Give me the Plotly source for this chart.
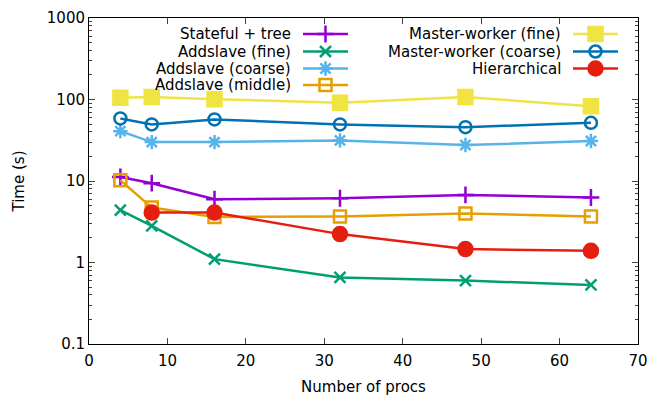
import plotly.graph_objects as go

procs = [4, 8, 16, 32, 48, 64]
procs_hier = [8, 16, 32, 48, 64]

stateful_tree = [11.2, 9.4, 5.97, 6.14, 6.75, 6.27]
addslave_fine = [4.38, 2.82, 1.10, 0.656, 0.60, 0.53]
addslave_coarse = [40.9, 30.0, 30.0, 31.5, 27.6, 30.9]
addslave_middle = [10.2, 4.72, 3.62, 3.66, 3.99, 3.66]
mw_fine = [105, 107, 101, 91, 107, 82.8]
mw_coarse = [58.5, 49.4, 57, 49.4, 45.8, 51.8]
hierarchical = [4.1, 4.1, 2.23, 1.46, 1.39]

ytick_vals = [0.1, 1, 10, 100, 1000]
ytick_text = ["0.1", "1", "10", "100", "1000"]

FONT = "DejaVu Sans, sans-serif"
FS = 15

# name, x, y, colour, symbol, size, legend column, legend row
series = [
    ("Stateful + tree", procs, stateful_tree, "#9400d3", "cross-thin-open", 12, 0, 0),
    ("Addslave (fine)", procs, addslave_fine, "#009e73", "x-thin-open", 11, 0, 1),
    ("Addslave (coarse)", procs, addslave_coarse, "#56b4e9", "asterisk-open", 12, 0, 2),
    ("Addslave (middle)", procs, addslave_middle, "#e69f00", "square-open", 12, 0, 3),
    ("Master-worker (fine)", procs, mw_fine, "#f0e442", "square", 14, 1, 0),
    ("Master-worker (coarse)", procs, mw_coarse, "#0072b2", "circle-open", 12, 1, 1),
    ("Hierarchical", procs_hier, hierarchical, "#e51e10", "circle", 14, 1, 2),
]

# the page body adds 8px, so the plot area sits at x 89..638, y 18..344 on screen
def fx(px):
    return (px - 89) / 549.0

def fy(py):
    return (344 - py) / 326.0

col_text = [293, 563]
col_line = [(303, 348), (573, 618)]
row_y = [34, 51.5, 68.5, 85]

fig = go.Figure()
annotations = []
for name, xs, ys, color, sym, size, col, row in series:
    fig.add_trace(go.Scatter(
        x=xs, y=ys, mode="lines+markers", name=name,
        line=dict(color=color, width=2.5),
        marker=dict(symbol=sym, size=size, color=color,
                    line=dict(color=color, width=2.5)),
        showlegend=False,
    ))
    x0, x1 = col_line[col]
    yy = fy(row_y[row])
    fig.add_trace(go.Scatter(
        x=[fx(x0), fx((x0 + x1) / 2), fx(x1)], y=[yy, yy, yy],
        mode="lines", line=dict(color=color, width=2.5),
        xaxis="x2", yaxis="y2", showlegend=False, hoverinfo="skip",
    ))
    fig.add_trace(go.Scatter(
        x=[fx((x0 + x1) / 2)], y=[yy], mode="markers",
        marker=dict(symbol=sym, size=size, color=color,
                    line=dict(color=color, width=2.5)),
        xaxis="x2", yaxis="y2", showlegend=False, hoverinfo="skip",
    ))
    annotations.append(dict(
        x=fx(col_text[col]), y=yy, xref="x2", yref="y2", text=name,
        showarrow=False, xanchor="right", yanchor="middle",
        font=dict(family=FONT, size=FS, color="black"),
    ))

fig.update_layout(
    width=656, height=391,
    margin=dict(l=81, r=26, t=10, b=55, autoexpand=False),
    plot_bgcolor="white", paper_bgcolor="white",
    font=dict(family=FONT, size=FS, color="black"),
    annotations=annotations,
    xaxis=dict(
        range=[0, 70], dtick=10, ticks="inside", ticklen=6,
        tickfont=dict(size=FS), ticklabelstandoff=3,
        showline=True, linecolor="black", linewidth=1, mirror="ticks",
        showgrid=False, zeroline=False,
        title=dict(text="Number of procs", standoff=12, font=dict(size=FS)),
    ),
    yaxis=dict(
        type="log", range=[-1, 3], tickvals=ytick_vals, ticktext=ytick_text,
        ticks="inside", ticklen=6, tickfont=dict(size=FS),
        minor=dict(ticks="inside", ticklen=3, dtick="D1", showgrid=False),
        showline=True, linecolor="black", linewidth=1, mirror="ticks",
        showgrid=False, zeroline=False,
        title=dict(text="Time (s)", standoff=18, font=dict(size=FS)),
    ),
    xaxis2=dict(overlaying="x", range=[0, 1], visible=False),
    yaxis2=dict(overlaying="y", range=[0, 1], visible=False),
)

fig.write_html("out.html")
